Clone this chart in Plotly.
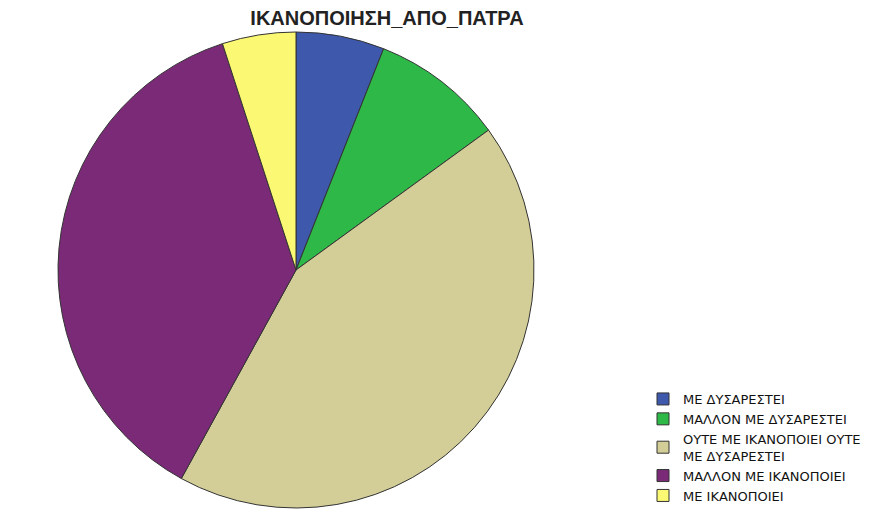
import plotly.graph_objects as go

categories = ["ΜΕ ΔΥΣΑΡΕΣΤΕΙ", "ΜΑΛΛΟΝ ΜΕ ΔΥΣΑΡΕΣΤΕΙ", "ΟΥΤΕ ΜΕ ΙΚΑΝΟΠΟΙΕΙ ΟΥΤΕ<br>ΜΕ ΔΥΣΑΡΕΣΤΕΙ",
              "ΜΑΛΛΟΝ ΜΕ ΙΚΑΝΟΠΟΙΕΙ", "ΜΕ ΙΚΑΝΟΠΟΙΕΙ"]
values = [6, 9, 43, 37, 5]
colors = ["#3E58AC", "#2EB848", "#D3CE97", "#7A2A77", "#FBF873"]
title = "ΙΚΑΝΟΠΟΙΗΣΗ_ΑΠΟ_ΠΑΤΡΑ"

W, H = 873, 511
fig = go.Figure(go.Pie(
    labels=categories, values=values, sort=False, direction="clockwise", rotation=0,
    marker=dict(colors=colors, line=dict(color="#333333", width=1)),
    textinfo="none", hoverinfo="label+value",
    domain=dict(x=[0, 592 / W], y=[3 / H, 479 / H]),
))
fig.update_layout(
    width=W, height=H, margin=dict(l=0, r=0, t=0, b=0),
    paper_bgcolor="white", plot_bgcolor="white",
    font=dict(family="Liberation Sans, Arial, sans-serif", color="#000000"),
    title=dict(text="<b>" + title + "</b>", x=387 / W, xanchor="center", y=1 - 18 / H, yanchor="middle",
               font=dict(size=20, color="#222222")),
    legend=dict(x=643 / W, xanchor="left", y=0.0, yanchor="bottom",
                font=dict(size=13, family="DejaVu Sans, sans-serif", color="#111111"),
                tracegroupgap=0, itemwidth=30, bgcolor="rgba(0,0,0,0)"),
)
fig.write_html("out.html", config={"displayModeBar": False},
               post_script="document.body.style.margin='0';")
